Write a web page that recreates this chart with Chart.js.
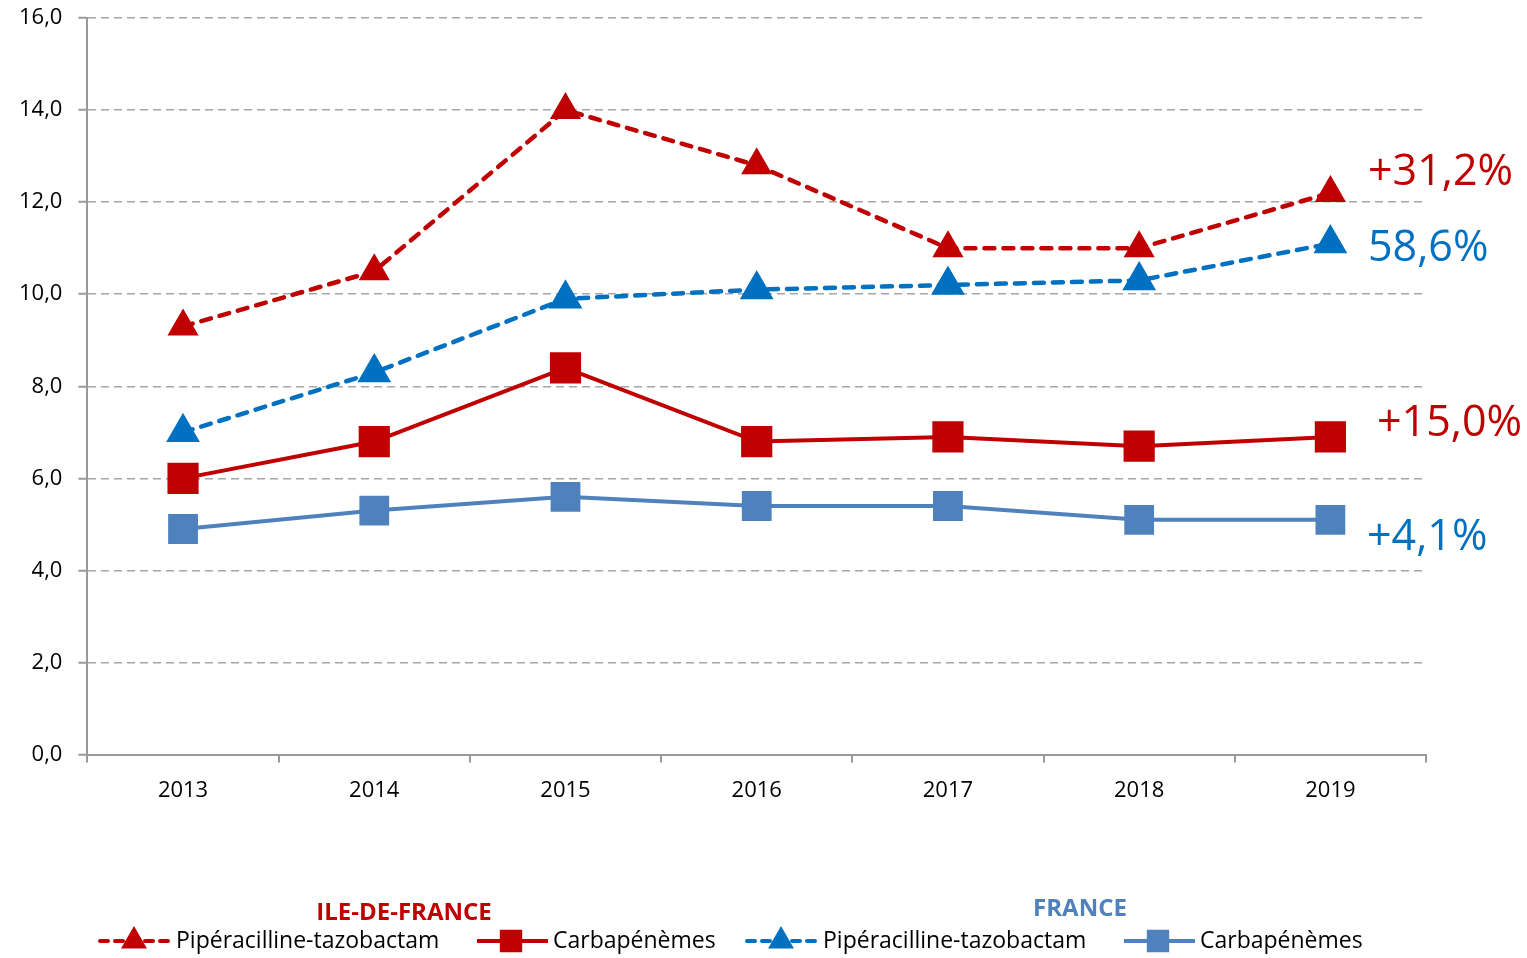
<!DOCTYPE html>
<html>
<head>
<meta charset="utf-8">
<script src="https://cdn.jsdelivr.net/npm/chart.js@4"></script>
<style>
  body { margin: 0; background: #fff; }
  #wrap { width: 1527px; height: 958px; position: relative; }
</style>
</head>
<body>
<div id="wrap"><canvas id="chart"></canvas></div>
<script>
// Data
const years = ['2013', '2014', '2015', '2016', '2017', '2018', '2019'];
const idfPipTazo = [9.3, 10.5, 14.0, 12.8, 11.0, 11.0, 12.2];
const idfCarba = [6.0, 6.8, 8.4, 6.8, 6.9, 6.7, 6.9];
const frPipTazo = [7.0, 8.3, 9.9, 10.1, 10.2, 10.3, 11.1];
const frCarba = [4.9, 5.3, 5.6, 5.4, 5.4, 5.1, 5.1];

const evolutionLabels = ['+31,2%', '58,6%', '+15,0%', '+4,1%'];
const legendNames = ['Pipéracilline-tazobactam', 'Carbapénèmes', 'Pipéracilline-tazobactam', 'Carbapénèmes'];
const groupTitles = ['ILE-DE-FRANCE', 'FRANCE'];

const RED = '#C00000';
const BLUE = '#0070C0';
const STEEL = '#4F81BD';
const FONT = "'Open Sans', 'Liberation Sans', sans-serif";
const DASH = [10, 9];

// --- Annotations + custom legend drawn on the canvas ---
const extrasPlugin = {
    id: 'extras',
    afterDraw(chart) {
        const ctx = chart.ctx;
        const area = chart.chartArea;
        ctx.save();

        // evolution labels on the right
        const notes = [
            { text: evolutionLabels[0], color: RED, dx: -58, y: 173 },
            { text: evolutionLabels[1], color: BLUE, dx: -58, y: 249 },
            { text: evolutionLabels[2], color: RED, dx: -49, y: 424 },
            { text: evolutionLabels[3], color: BLUE, dx: -59, y: 538 }
        ];
        ctx.font = `43px ${FONT}`;
        ctx.textBaseline = 'middle';
        ctx.textAlign = 'left';
        notes.forEach(n => {
            ctx.fillStyle = n.color;
            ctx.fillText(n.text, area.right + n.dx, n.y);
        });

        // group titles
        ctx.font = `bold 24px ${FONT}`;
        ctx.textAlign = 'center';
        ctx.fillStyle = RED;
        ctx.fillText(groupTitles[0], 404, 913);
        ctx.fillStyle = STEEL;
        ctx.fillText(groupTitles[1], 1080, 909);

        // legend entries
        const items = [
            { x: 98, color: RED, dash: [8, 7], style: 'triangle', r: 11 },
            { x: 475, color: RED, dash: [], style: 'rect', r: 13 },
            { x: 745, color: BLUE, dash: [8, 7], style: 'triangle', r: 11 },
            { x: 1122, color: STEEL, dash: [], style: 'rect', r: 13 }
        ];
        const ly = 941;
        items.forEach((it, i) => {
            ctx.save();
            ctx.strokeStyle = it.color;
            ctx.lineWidth = 4;
            ctx.lineCap = it.dash.length ? 'round' : 'butt';
            ctx.setLineDash(it.dash);
            ctx.beginPath();
            ctx.moveTo(it.x + 2, ly);
            ctx.lineTo(it.x + 73, ly);
            ctx.stroke();
            ctx.setLineDash([]);
            ctx.fillStyle = it.color;
            Chart.helpers.drawPoint(ctx, { pointStyle: it.style, radius: it.r, rotation: 0, borderWidth: 1 }, it.x + 36, ly);
            ctx.restore();

            ctx.font = `23px ${FONT}`;
            ctx.textAlign = 'left';
            ctx.fillStyle = '#000';
            ctx.fillText(legendNames[i], it.x + 78, ly);
        });
        ctx.restore();
    }
};

function lineSet(data, color, dashed, style, radius) {
    return {
        data: data,
        borderColor: color,
        backgroundColor: color,
        borderWidth: dashed ? 4.5 : 4,
        borderDash: dashed ? DASH : [],
        borderCapStyle: dashed ? 'round' : 'butt',
        tension: 0,
        pointStyle: style,
        pointRadius: radius,
        pointHoverRadius: radius,
        pointBorderWidth: 1.5,
        pointBackgroundColor: color,
        pointBorderColor: color
    };
}

const noPad = scale => { scale.paddingTop = 0; scale.paddingBottom = 0; };

new Chart(document.getElementById('chart'), {
    type: 'line',
    data: {
        labels: years,
        datasets: [
            lineSet(frCarba, STEEL, false, 'rect', 20),
            lineSet(idfCarba, RED, false, 'rect', 21),
            lineSet(frPipTazo, BLUE, true, 'triangle', 18),
            lineSet(idfPipTazo, RED, true, 'triangle', 16.5)
        ]
    },
    options: {
        responsive: true,
        maintainAspectRatio: false,
        animation: false,
        layout: { autoPadding: false, padding: { left: 3, right: 101, top: 18, bottom: 139 } },
        plugins: {
            legend: { display: false },
            tooltip: { enabled: false }
        },
        scales: {
            x: {
                offset: true,
                afterFit: noPad,
                grid: { offset: true, drawOnChartArea: false, tickLength: 8, color: '#999', lineWidth: 2 },
                border: { color: '#999', width: 2 },
                ticks: { color: '#000', padding: 15, font: { family: FONT, size: 22 } }
            },
            y: {
                min: 0,
                max: 16,
                afterFit: noPad,
                ticks: {
                    stepSize: 2,
                    color: '#000',
                    padding: 16,
                    font: { family: FONT, size: 22 },
                    callback: v => v.toFixed(1).replace('.', ',')
                },
                grid: { color: '#A6A6A6', lineWidth: 1.5, tickLength: 9, tickColor: '#999', tickWidth: 2 },
                border: { color: '#999', width: 2, dash: [8, 5] }
            }
        }
    },
    plugins: [extrasPlugin]
});
</script>
</body>
</html>
